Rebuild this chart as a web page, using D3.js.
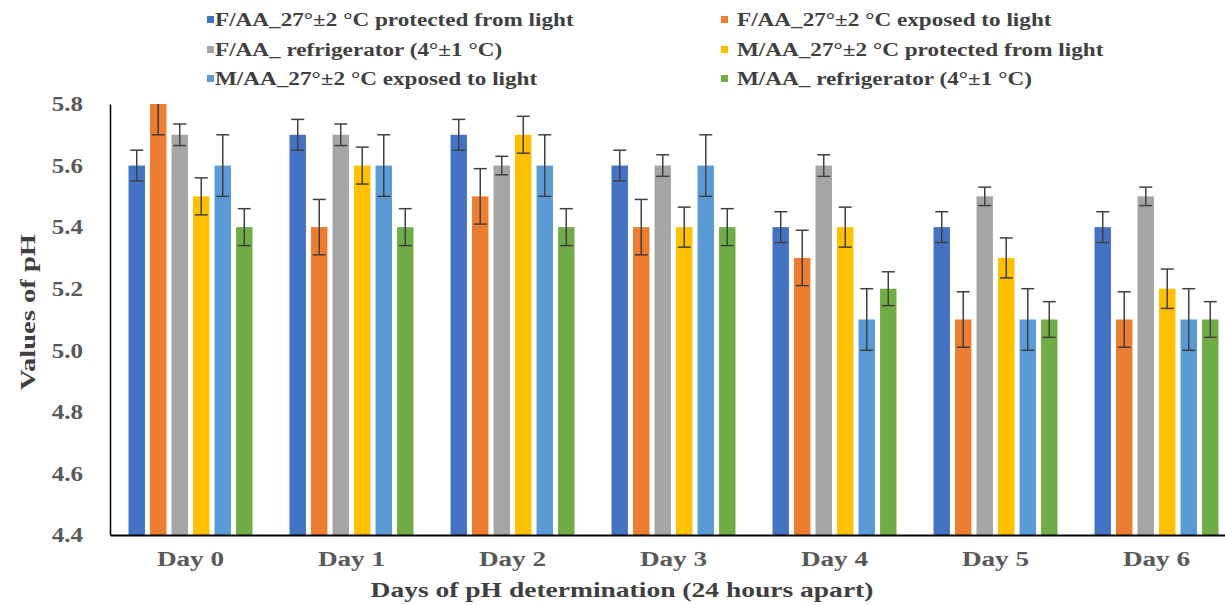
<!DOCTYPE html>
<html lang="en">
<head>
<meta charset="UTF-8">
<title>Values of pH</title>
<script src="https://d3js.org/d3.v7.min.js"></script>
<style>
  body { margin: 0; background: #fff; }
</style>
</head>
<body>
<svg id="chart" width="1225" height="605"></svg>
<script>
const days = ["Day 0", "Day 1", "Day 2", "Day 3", "Day 4", "Day 5", "Day 6"];
const seriesNames = [
  "F/AA_27°±2 °C protected from light",
  "F/AA_27°±2 °C exposed to light",
  "F/AA_ refrigerator (4°±1 °C)",
  "M/AA_27°±2 °C protected from light",
  "M/AA_27°±2 °C exposed to light",
  "M/AA_ refrigerator (4°±1 °C)"
];
const colors = ["#4472C4", "#ED7D31", "#A5A5A5", "#FFC000", "#5B9BD5", "#70AD47"];

// pH values per series, one per day
const fProtected = [5.6, 5.7, 5.7, 5.6, 5.4, 5.4, 5.4];
const fExposed   = [5.8, 5.4, 5.5, 5.4, 5.3, 5.1, 5.1];
const fFridge    = [5.7, 5.7, 5.6, 5.6, 5.6, 5.5, 5.5];
const mProtected = [5.5, 5.6, 5.7, 5.4, 5.4, 5.3, 5.2];
const mExposed   = [5.6, 5.6, 5.6, 5.6, 5.1, 5.1, 5.1];
const mFridge    = [5.4, 5.4, 5.4, 5.4, 5.2, 5.1, 5.1];

// error bar half-widths per series
const fProtectedErr = [0.05, 0.05, 0.05, 0.05, 0.05, 0.05, 0.05];
const fExposedErr   = [0.1, 0.09, 0.09, 0.09, 0.09, 0.09, 0.09];
const fFridgeErr    = [0.035, 0.035, 0.03, 0.035, 0.035, 0.03, 0.03];
const mProtectedErr = [0.06, 0.06, 0.06, 0.065, 0.065, 0.065, 0.064];
const mExposedErr   = [0.1, 0.1, 0.1, 0.1, 0.1, 0.1, 0.1];
const mFridgeErr    = [0.06, 0.06, 0.06, 0.06, 0.055, 0.058, 0.058];

const yTicks = [4.4, 4.6, 4.8, 5.0, 5.2, 5.4, 5.6, 5.8];

const values = [fProtected, fExposed, fFridge, mProtected, mExposed, mFridge];
const errors = [fProtectedErr, fExposedErr, fFridgeErr, mProtectedErr, mExposedErr, mFridgeErr];

const FONT = "Liberation Serif";
const svg = d3.select("#chart");
const plotLeft = 110, plotRight = 1237, plotTop = 104, plotBottom = 535;

// serif bold text, widened horizontally around its own anchor point
function styleText(sel, size, stretch, fill) {
  sel.attr("fill", fill)
    .style("font-family", FONT)
    .style("font-weight", "bold")
    .style("font-size", size + "px")
    .attr("transform", function() {
      const tx = +this.getAttribute("x") || 0, ty = +this.getAttribute("y") || 0;
      const prev = this.getAttribute("transform") || "";
      return `${prev} translate(${tx},${ty}) scale(${stretch},1) translate(${-tx},${-ty})`;
    });
}

const x0 = d3.scaleBand().domain(days).range([plotLeft, plotRight]).paddingInner(0.23).paddingOuter(0.115);
const x1 = d3.scaleBand().domain(d3.range(seriesNames.length)).range([0, x0.bandwidth()]).paddingInner(0.236);
const y = d3.scaleLinear().domain([4.4, 5.8]).range([plotBottom, plotTop]);

svg.append("clipPath").attr("id", "plotClip")
  .append("rect").attr("x", plotLeft).attr("y", plotTop)
  .attr("width", plotRight - plotLeft).attr("height", plotBottom - plotTop);

const plot = svg.append("g").attr("clip-path", "url(#plotClip)");

const cells = [];
days.forEach((d, i) => {
  values.forEach((s, j) => {
    cells.push({ day: d, series: j, v: s[i], e: errors[j][i] });
  });
});

plot.selectAll("rect.bar").data(cells).enter().append("rect")
  .attr("class", "bar")
  .attr("x", d => x0(d.day) + x1(d.series))
  .attr("y", d => y(d.v))
  .attr("width", x1.bandwidth())
  .attr("height", d => plotBottom - y(d.v))
  .attr("fill", d => colors[d.series]);

// error bars
const cx = d => x0(d.day) + x1(d.series) + x1.bandwidth() / 2;
const eb = plot.selectAll("g.err").data(cells).enter().append("g")
  .attr("class", "err")
  .attr("stroke", "#404040")
  .attr("stroke-width", 1.5);
eb.append("line")
  .attr("x1", cx).attr("x2", cx)
  .attr("y1", d => y(d.v - d.e))
  .attr("y2", d => y(d.v + d.e));
[-1, 1].forEach(sgn => {
  eb.append("line")
    .attr("x1", d => cx(d) - 6.5)
    .attr("x2", d => cx(d) + 6.5)
    .attr("y1", d => y(d.v + sgn * d.e))
    .attr("y2", d => y(d.v + sgn * d.e));
});

// Y axis
const yAxis = svg.append("g")
  .attr("transform", `translate(${plotLeft},0)`)
  .call(d3.axisLeft(y).tickValues(yTicks).tickFormat(d3.format(".1f")).tickSize(0).tickPadding(27));
yAxis.select(".domain").attr("stroke", "#000").attr("stroke-width", 1.5);
yAxis.selectAll("text").call(styleText, 21, 1.19, "#595959");

// X axis
const xAxis = svg.append("g")
  .attr("transform", `translate(0,${plotBottom})`)
  .call(d3.axisBottom(x0).tickSize(0).tickPadding(17));
xAxis.select(".domain").attr("stroke", "#000").attr("stroke-width", 2);
xAxis.selectAll("text").call(styleText, 20, 1.36, "#595959");

// Axis titles
svg.append("text")
  .attr("x", 622)
  .attr("y", 597)
  .attr("text-anchor", "middle")
  .text("Days of pH determination (24 hours apart)")
  .call(styleText, 21.5, 1.28, "#404040");

svg.append("text")
  .attr("transform", "translate(35,312) rotate(-90)")
  .attr("text-anchor", "middle")
  .text("Values of pH")
  .call(styleText, 21, 1.36, "#404040");

// Legend
const legendX = [207, 721];
const legendTextX = [8, 16];
const legendY = [26, 56, 85];
const legend = svg.selectAll("g.leg").data(seriesNames).enter().append("g")
  .attr("class", "leg")
  .attr("transform", (d, i) => `translate(${legendX[i % 2]},${legendY[Math.floor(i / 2)]})`);
legend.append("rect")
  .attr("x", 0).attr("y", -10).attr("width", 7).attr("height", 7)
  .attr("fill", (d, i) => colors[i]);
legend.append("text")
  .attr("x", (d, i) => legendTextX[i % 2]).attr("y", 0)
  .text(d => d)
  .call(styleText, 19, 1.22, "#404040");
</script>
</body>
</html>
